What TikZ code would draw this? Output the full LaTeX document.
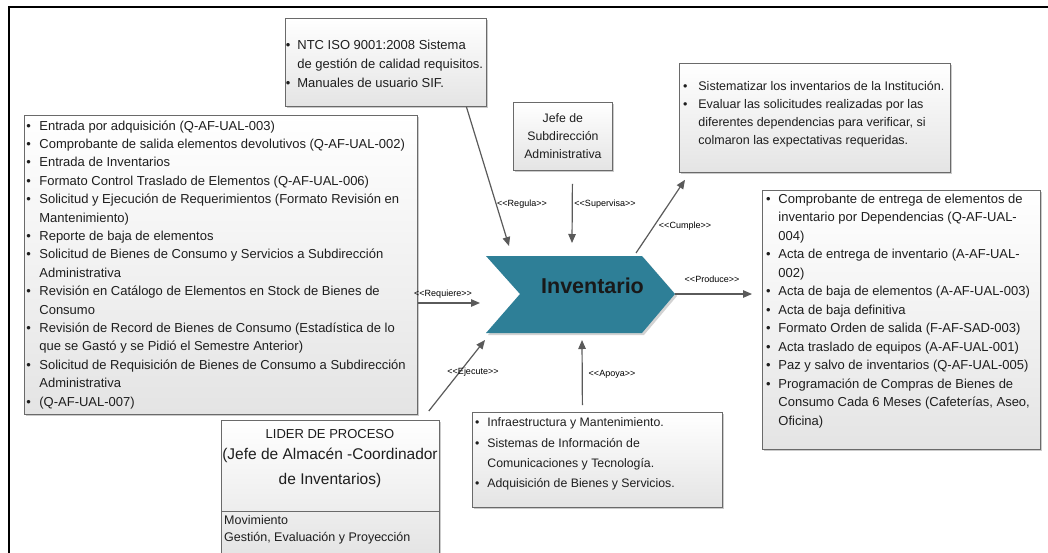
\documentclass[tikz,border=0pt]{standalone}
\usepackage{fontspec}
\setmainfont{Liberation Sans}
\usetikzlibrary{arrows.meta,shadows}

\definecolor{boxline}{HTML}{6A6A6A}
\definecolor{boxbot}{HTML}{E4E4E4}
\definecolor{conncol}{HTML}{5A5A5A}
\definecolor{invteal}{HTML}{2E7F97}
\definecolor{txt}{HTML}{1E1E1E}

% bullet lists drawn line by line
\newlength\bpre
\newlength\bhang
\newcommand\bl[1]{\par\noindent\hbox{\hbox to\bhang{\hspace*{\bpre}\textbullet\hss}#1\strut}\par}
\newcommand\cl[1]{\par\noindent\hbox{\hspace*{\bhang}#1\strut}\par}
% fixed-size box body, text from the top: width, height, top padding, content
\newcommand\boxbody[4]{\parbox[c][#2][t]{#1}{\vspace*{#3}#4}}
% stereotype brackets of the connector labels
\newcommand\stL{<\kern0pt<}
\newcommand\stR{>\kern0pt>}

\tikzset{
  box/.style={draw=boxline, line width=0.8pt, top color=white, bottom color=boxbot,
    drop shadow={shadow xshift=2pt, shadow yshift=-2pt, fill=black!45, opacity=0.45},
    inner sep=0pt, anchor=north west, text=txt},
  conn/.style={draw=conncol, line width=1.2pt, -{Triangle[length=9pt,width=7.5pt]}},
  lbl/.style={font=\fontsize{9}{10}\selectfont, text=black, inner sep=0pt},
  plain/.style={inner sep=0pt, text=txt},
}

\begin{document}
\begin{tikzpicture}[x=1pt,y=-1pt]
\useasboundingbox (0,0) rectangle (1048,552);

% outer frame
\draw[line width=2pt] (8.5,553) -- (8.5,7) -- (1049,7);

% ---- boxes ----
\node[box] (topbox) at (285,18) {\boxbody{201pt}{88pt}{17.4pt}{%
  \fontsize{13}{19}\selectfont\setlength\bpre{0.5pt}\setlength\bhang{12pt}%
  \bl{NTC ISO 9001:2008 Sistema}
  \cl{de gestión de calidad requisitos.}
  \bl{Manuales de usuario SIF.}}};

\node[box] (jefe) at (513,102) {\boxbody{99pt}{68pt}{7.8pt}{%
  \centering\fontsize{12.3}{18}\selectfont
  \strut Jefe de\par \strut Subdirección\par \strut Administrativa\par}};

\node[box] (trbox) at (679,63) {\boxbody{271pt}{109pt}{14.9pt}{%
  \fontsize{12.5}{18}\selectfont\setlength\bpre{3.7pt}\setlength\bhang{19pt}%
  \bl{Sistematizar los inventarios de la Institución.}
  \bl{Evaluar las solicitudes realizadas por las}
  \cl{diferentes dependencias para verificar, si}
  \cl{colmaron las expectativas requeridas.}}};

\node[box] (lbox) at (24,115) {\boxbody{393pt}{299pt}{1.8pt}{%
  \fontsize{13}{18.4}\selectfont\setlength\bpre{2pt}\setlength\bhang{15pt}%
  \bl{Entrada por adquisición (Q-AF-UAL-003)}
  \bl{Comprobante de salida elementos devolutivos (Q-AF-UAL-002)}
  \bl{Entrada de Inventarios}
  \bl{Formato Control Traslado de Elementos (Q-AF-UAL-006)}
  \bl{Solicitud y Ejecución de Requerimientos (Formato Revisión en}
  \cl{Mantenimiento)}
  \bl{Reporte de baja de elementos}
  \bl{Solicitud de Bienes de Consumo y Servicios a Subdirección}
  \cl{Administrativa}
  \bl{Revisión en Catálogo de Elementos en Stock de Bienes de}
  \cl{Consumo}
  \bl{Revisión de Record de Bienes de Consumo (Estadística de lo}
  \cl{que se Gastó y se Pidió el Semestre Anterior)}
  \bl{Solicitud de Requisición de Bienes de Consumo a Subdirección}
  \cl{Administrativa}
  \bl{(Q-AF-UAL-007)}}};

\node[box] (rbox) at (762,190) {\boxbody{278pt}{259pt}{-0.2pt}{%
  \fontsize{13}{18.5}\selectfont\setlength\bpre{3.7pt}\setlength\bhang{16pt}%
  \bl{Comprobante de entrega de elementos de}
  \cl{inventario por Dependencias (Q-AF-UAL-}
  \cl{004)}
  \bl{Acta de entrega de inventario (A-AF-UAL-}
  \cl{002)}
  \bl{Acta de baja de elementos (A-AF-UAL-003)}
  \bl{Acta de baja definitiva}
  \bl{Formato Orden de salida (F-AF-SAD-003)}
  \bl{Acta traslado de equipos (A-AF-UAL-001)}
  \bl{Paz y salvo de inventarios (Q-AF-UAL-005)}
  \bl{Programación de Compras de Bienes de}
  \cl{Consumo Cada 6 Meses (Cafeterías, Aseo,}
  \cl{Oficina)}}};

\node[box] (bmbox) at (472,412) {\boxbody{250pt}{95pt}{0.2pt}{%
  \fontsize{12.3}{20.3}\selectfont\setlength\bpre{2.7pt}\setlength\bhang{15pt}%
  \bl{Infraestructura y Mantenimiento.}
  \bl{Sistemas de Información de}
  \cl{Comunicaciones y Tecnología.}
  \bl{Adquisición de Bienes y Servicios.}}};

% process owner box with its lower compartment
\node[box, minimum width=218pt, minimum height=136pt] (lider) at (221,420) {};
\draw[boxline, line width=0.8pt] ([yshift=-91pt]lider.north west) -- ([yshift=-91pt]lider.north east);
\node[plain, font=\fontsize{13}{15}\selectfont] (lidA) at (330,434) {LIDER DE PROCESO};
\node[plain, font=\fontsize{15.5}{18}\selectfont] (lidB) at (330,455) {(Jefe de Almacén -Coordinador};
\node[plain, font=\fontsize{15.5}{18}\selectfont] (lidC) at (330,480) {de Inventarios)};
\node[plain, anchor=west, font=\fontsize{12.5}{15}\selectfont] (lidD) at (224,520) {Movimiento};
\node[plain, anchor=west, font=\fontsize{12.5}{15}\selectfont] (lidE) at (224,538) {Gestión, Evaluación y Proyección};

% ---- central process chevron ----
\fill[black!35, opacity=0.5] (488,258) -- (644,258) -- (677,296) -- (644,335) -- (488,335) -- (522,296) -- cycle;
\fill[invteal] (486,256) -- (642,256) -- (675,294) -- (642,333) -- (486,333) -- (520,294) -- cycle;
\node[inner sep=0pt, text=black!90, font=\bfseries\fontsize{21.5}{24}\selectfont] (inv) at (592.5,286) {Inventario};

% connector ends at the chevron
\coordinate (pReg) at (509,246);
\coordinate (pSup) at (572,243);
\coordinate (pCum) at (636,253);
\coordinate (pTip) at (675,294);
\coordinate (pReq) at (480,303);
\coordinate (pEje) at (485,340);
\coordinate (pApo) at (582,340);

% ---- connectors ----
\draw[conn] ([xshift=80.5pt]topbox.south) -- (pReg);
\draw[conn] ([xshift=9.5pt,yshift=-13pt]jefe.south) -- (pSup);
\draw[conn] (pCum) -- ([xshift=6pt,yshift=-7pt]trbox.south west);
\draw[conn, shorten >=10pt] (pTip) -- (pTip -| rbox.west);
\draw[conn] (lbox.east |- pReq) -- (pReq);
\draw[conn] ([xshift=-11pt,yshift=9pt]lider.north east) -- (pEje);
\draw[conn] ([xshift=-15pt,yshift=7pt]bmbox.north) -- (pApo);

% ---- connector labels ----
\node[lbl] (lReg) at (522,204) {\stL Regula\stR};
\node[lbl] (lSup) at (605,204) {\stL Supervisa\stR};
\node[lbl] (lCum) at (685,226) {\stL Cumple\stR};
\node[lbl] (lPro) at (712,279) {\stL Produce\stR};
\node[lbl] (lReq) at (443,294) {\stL Requiere\stR};
\node[lbl] (lEje) at (473,372) {\stL Ejecute\stR};
\node[lbl] (lApo) at (612,374) {\stL Apoya\stR};
\end{tikzpicture}
\end{document}
